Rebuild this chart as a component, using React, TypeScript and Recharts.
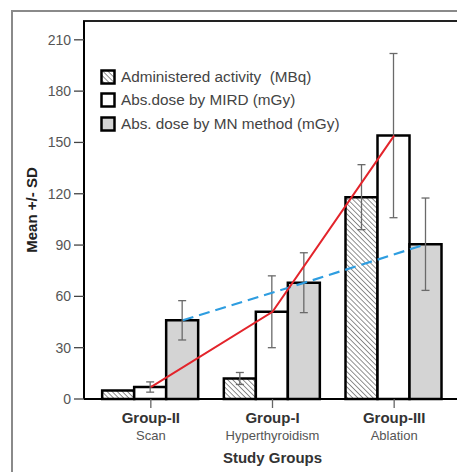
import { ComposedChart, Bar, Line, XAxis, YAxis, ErrorBar, Legend, Label } from 'recharts';

const CATEGORIES = ['Group-II', 'Group-I', 'Group-III'];
const SUBTITLES = ['Scan', 'Hyperthyroidism', 'Ablation'];
const ACTIVITY = [5, 12, 118];
const ACTIVITY_SD = [0, 3.5, 19];
const MIRD = [7, 51, 154];
const MIRD_SD = [3, 21, 48];
const MN = [46, 68, 90.5];
const MN_SD = [11.5, 17.5, 27];
const Y_TICKS = [0, 30, 60, 90, 120, 150, 180, 210];
const Y_MAX = 221;

const SERIES_NAMES: Record<string, string> = {
  activity: 'Administered activity  (MBq)',
  mird: 'Abs.dose by MIRD (mGy)',
  mn: 'Abs. dose by MN method (mGy)',
};

const FILLS: Record<string, string> = {
  activity: 'url(#hatch)',
  mird: '#ffffff',
  mn: '#d4d4d4',
};

const data = CATEGORIES.map((group, i) => ({
  group,
  activity: ACTIVITY[i],
  activitySd: ACTIVITY_SD[i],
  mird: MIRD[i],
  mirdSd: MIRD_SD[i],
  mn: MN[i],
  mnSd: MN_SD[i],
}));

const FONT = '"Liberation Sans", Arial, sans-serif';

function GroupTick({ x, y, payload, index }: any) {
  return (
    <g>
      <text x={x} y={y + 13} textAnchor="middle" fontSize={15} fontWeight="bold" fill="#333">
        {payload.value}
      </text>
      <text x={x} y={y + 30} textAnchor="middle" fontSize={13} fill="#555">
        {SUBTITLES[index]}
      </text>
    </g>
  );
}

function LegendBox({ payload }: any) {
  const seen = new Set<string>();
  const items = (payload || []).filter((p: any) => {
    if (p.type === 'none' || !SERIES_NAMES[p.dataKey] || seen.has(p.dataKey)) return false;
    seen.add(p.dataKey);
    return true;
  });
  return (
    <div style={{ fontFamily: FONT, fontSize: 15.3, color: '#444', textAlign: 'left' }}>
      {items.map((p: any) => (
        <div key={p.dataKey} style={{ display: 'flex', alignItems: 'center', height: 23.5 }}>
          <svg width={16} height={16} style={{ marginRight: 5 }}>
            <rect x={1.5} y={1.5} width={13} height={13} fill={FILLS[p.dataKey]} stroke="#000" strokeWidth={2.5} />
          </svg>
          <span style={{ whiteSpace: 'pre' }}>{SERIES_NAMES[p.dataKey]}</span>
        </div>
      ))}
    </div>
  );
}

export default function App() {
  return (
    <div style={{ position: 'fixed', left: 0, top: 0, width: 457, height: 472, overflow: 'hidden', background: '#fff', fontFamily: FONT }}>
      {/* outer figure frame */}
      <div style={{ position: 'absolute', left: 11, top: 10, width: 500, height: 500, borderLeft: '2px solid #8a8a8a', borderTop: '2px solid #8a8a8a' }} />
      {/* plot box top edge */}
      <div style={{ position: 'absolute', left: 83, top: 20, width: 420, height: 380, borderTop: '2px solid #222', boxSizing: 'border-box' }} />
      <div style={{ position: 'absolute', left: 0, top: 0 }}>
        <ComposedChart
          width={470}
          height={472}
          data={data}
          margin={{ top: 20, right: 9, bottom: 0, left: 0 }}
          barGap={0}
          barCategoryGap="10%"
        >
          <defs>
            <pattern id="hatch" width={3.6} height={3.6} patternUnits="userSpaceOnUse" patternTransform="rotate(-45)">
              <rect width={3.6} height={3.6} fill="#fff" />
              <line x1={0} y1={0} x2={0} y2={3.6} stroke="#555" strokeWidth={1.3} />
            </pattern>
          </defs>
          <XAxis
            xAxisId="top"
            dataKey="group"
            orientation="top"
            height={1}
            tick={false}
            tickLine={false}
            axisLine={{ stroke: '#222', strokeWidth: 2 }}
          />
          <XAxis
            dataKey="group"
            height={73}
            padding={{ left: 6, right: 6 }}
            axisLine={{ stroke: '#000', strokeWidth: 2 }}
            tickLine={{ stroke: '#666', strokeWidth: 1.3 }}
            tickSize={9}
            tickMargin={2}
            tick={<GroupTick />}
            interval={0}
          >
            <Label value="Study Groups" position="insideBottom" offset={9} fontSize={15} fontWeight="bold" fill="#333" />
          </XAxis>
          <XAxis xAxisId="shift" dataKey="group" hide padding={{ left: 38, right: -26 }} />
          <YAxis
            width={84}
            domain={[0, Y_MAX]}
            ticks={Y_TICKS}
            axisLine={{ stroke: '#000', strokeWidth: 2 }}
            tickLine={{ stroke: '#444', strokeWidth: 1.3 }}
            tickSize={10}
            tickMargin={3}
            tick={{ fontSize: 14, fill: '#555' }}
            label={{
              content: () => (
                <text
                  x={31}
                  y={210}
                  transform="rotate(-90, 31, 210)"
                  textAnchor="middle"
                  dominantBaseline="central"
                  fontSize={15}
                  fontWeight="bold"
                  fill="#222"
                >
                  Mean +/- SD
                </text>
              ),
            }}
          />
          <Legend
            content={<LegendBox />}
            layout="horizontal"
            verticalAlign="middle"
            align="center"
            wrapperStyle={{ position: 'absolute', left: 100, top: 65, width: 280 }}
          />
          <Bar dataKey="activity" fill="url(#hatch)" stroke="#000" strokeWidth={2.5} isAnimationActive={false}>
            <ErrorBar dataKey="activitySd" width={4} stroke="#6a6a6a" strokeWidth={1.3} />
          </Bar>
          <Bar dataKey="mird" fill="#fff" stroke="#000" strokeWidth={2.5} isAnimationActive={false}>
            <ErrorBar dataKey="mirdSd" width={4} stroke="#6a6a6a" strokeWidth={1.3} />
          </Bar>
          <Bar dataKey="mn" fill="#d4d4d4" stroke="#000" strokeWidth={2.5} isAnimationActive={false}>
            <ErrorBar dataKey="mnSd" width={4} stroke="#6a6a6a" strokeWidth={1.3} />
          </Bar>
          <Line
            xAxisId="shift"
            dataKey="mn"
            stroke="#2e9de0"
            strokeWidth={2.2}
            strokeDasharray="11 6"
            dot={false}
            legendType="none"
            isAnimationActive={false}
          />
          <Line
            dataKey="mird"
            stroke="#e3242b"
            strokeWidth={2}
            dot={false}
            legendType="none"
            isAnimationActive={false}
          />
        </ComposedChart>
      </div>
    </div>
  );
}
